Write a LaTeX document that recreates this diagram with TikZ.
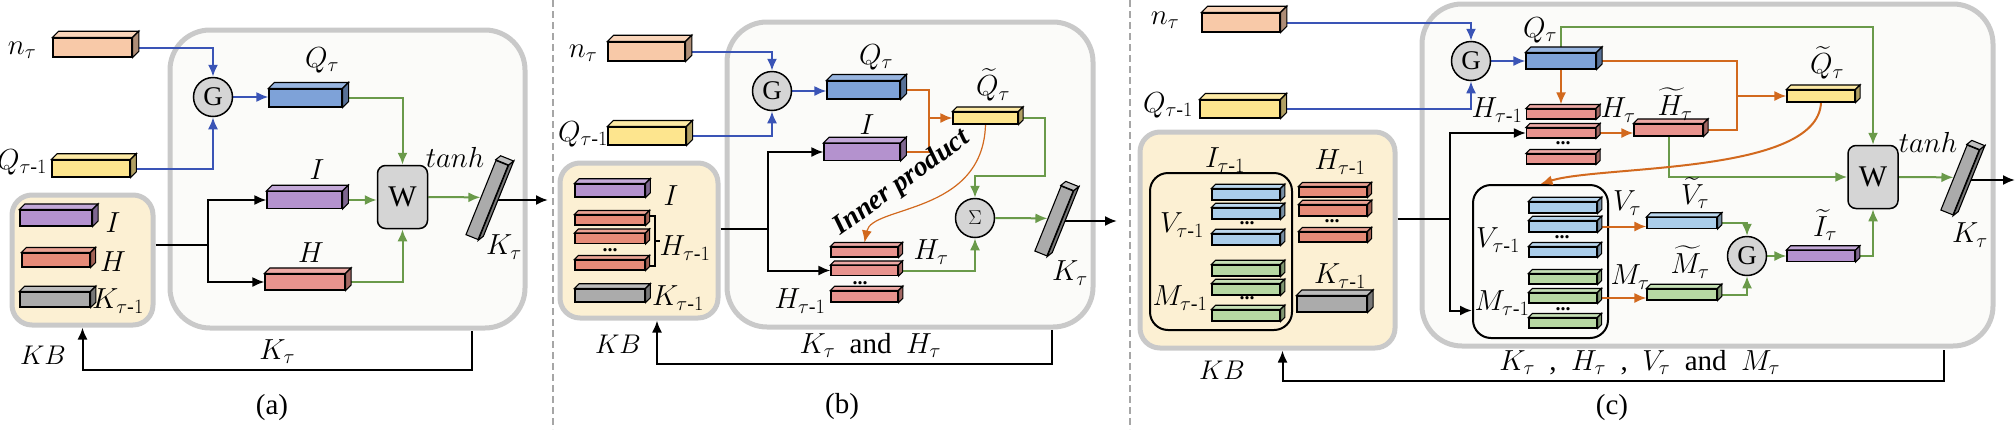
\RequirePackage{fix-cm}
\documentclass[tikz,border=0pt]{standalone}
\usepackage{amsmath}
\usepackage{fontspec}
\setmainfont{Liberation Serif}
\usetikzlibrary{arrows.meta}

\pgfdeclarelayer{back}
\pgfdeclarelayer{wires}
\pgfsetlayers{back,wires,main}

\definecolor{peach}{HTML}{F8C9A8}
\definecolor{lemon}{HTML}{FDE58E}
\definecolor{sky}{HTML}{7EA2D8}
\definecolor{lilac}{HTML}{B492CE}
\definecolor{rose}{HTML}{E8938E}
\definecolor{coral}{HTML}{E68B78}
\definecolor{stone}{HTML}{ABABAB}
\definecolor{ice}{HTML}{AACDEA}
\definecolor{mint}{HTML}{B7D8A3}
\definecolor{lineblue}{HTML}{3A54B6}
\definecolor{linegreen}{HTML}{6A9A4A}
\definecolor{lineorange}{HTML}{D2691E}
\definecolor{rim}{HTML}{C9C9C9}
\definecolor{paper}{HTML}{FBFBF9}
\definecolor{cream}{HTML}{FCF0D3}
\definecolor{knob}{HTML}{D5D5D5}

\tikzset{cell/.style={draw, line width=1.1pt, inner sep=0pt}}

% flat bar seen a little from above: [height]{name}{centre}{width}{colour}
\newcommand{\cell}[5][18]{%
  \pgfmathsetmacro\celldep{0.25*#1+1.5}%
  \node[cell, minimum width=#4, minimum height=#1, fill=#5] (#2) at (#3) {};
  \draw[line width=1.1pt, fill=#5!80!white] (#2.north west) -- ++(\celldep,-\celldep)
    -- ([shift={(\celldep,-\celldep)}]#2.north east) -- (#2.north east) -- cycle;
  \draw[line width=1.1pt, fill=#5!70!black] (#2.north east) -- ++(\celldep,-\celldep)
    -- ([shift={(\celldep,-\celldep)}]#2.south east) -- (#2.south east) -- cycle;
}
% the tilted K bar: [length]{name}{centre}
\newcommand{\slab}[3][70]{%
  \node[cell, minimum width=#1, minimum height=13, fill=stone, rotate=68] (#2) at (#3) {};
  \draw[line width=1.1pt, fill=stone!75!white] (#2.north east) -- ++(5,-4)
    -- ([shift={(5,-4)}]#2.south east) -- (#2.south east) -- cycle;
  \draw[line width=1.1pt, fill=stone!70!black] (#2.south east) -- ++(5,-4)
    -- ([shift={(5,-4)}]#2.south west) -- (#2.south west) -- cycle;
}

\begin{document}
\begin{tikzpicture}[x=1pt, y=-1pt, >={Latex[length=12pt,width=10pt]},
    font=\fontsize{29}{32}\selectfont,
    panel/.style={draw=rim, line width=5pt, fill=paper, rounded corners=40pt, inner sep=0pt},
    kb/.style={draw=rim, line width=5pt, fill=cream, rounded corners=20pt, inner sep=0pt},
    cluster/.style={draw, line width=2pt, rounded corners=18pt, inner sep=0pt},
    gate/.style={circle, draw, line width=1.5pt, fill=knob, minimum size=39pt, inner sep=0pt, font=\fontsize{27}{27}\selectfont},
    mix/.style={draw, line width=1.5pt, fill=knob, rounded corners=8pt, minimum width=50pt, minimum height=63pt, inner sep=0pt, font=\fontsize{30}{30}\selectfont},
    ellip/.style={inner sep=0pt, font=\fontsize{20}{20}\selectfont\bfseries},
    kbtext/.style={font=\fontsize{27}{29}\selectfont},
    blueline/.style={draw=lineblue, line width=2pt},
    greenline/.style={draw=linegreen, line width=2pt},
    orangeline/.style={draw=lineorange, line width=2pt},
    blackline/.style={draw=black, line width=2pt},
    divider/.style={draw=gray!70, line width=2pt, dash pattern=on 7pt off 4pt}]
\useasboundingbox (0,0) rectangle (2016,429);

\begin{pgfonlayer}{back}
  \node[panel, minimum width=355, minimum height=298] (frA) at (347.5,179) {};
  \node[kb, minimum width=141, minimum height=130] (kbA) at (82.5,260) {};
  \node[panel, minimum width=366, minimum height=305] (frB) at (910,174.5) {};
  \node[kb, minimum width=158, minimum height=155] (kbB) at (639,240.5) {};
  \node[panel, minimum width=571, minimum height=342] (frC) at (1707.5,175) {};
  \node[kb, minimum width=255, minimum height=216] (kbC) at (1267.5,240) {};
  \node[cluster, minimum width=142, minimum height=157] (ivC) at (1221,251.5) {};
  \node[cluster, minimum width=135, minimum height=153] (vmC) at (1540.5,261.5) {};
\end{pgfonlayer}

\draw[divider] (553,0) -- (553,429);
\draw[divider] (1130,0) -- (1130,429);

% (a)
\cell[19]{nA}{92.5,47.5}{79}{peach}
\cell[17]{qpA}{91,168.5}{78}{lemon}
\node[gate] (gA) at (213,97) {G};
\cell[18]{qA}{305.5,98}{73}{sky}
\cell[17]{iA}{304.5,200}{75}{lilac}
\cell[16]{hA}{305,282}{80}{rose}
\node[mix] (wA) at (402.5,197) {W};
\slab[80]{kA}{487,200}
\cell[16]{kiA}{56,218}{72}{lilac}
\cell[14]{khA}{56,260}{68}{coral}
\cell[15]{kkA}{55,299.5}{70}{stone}
\node (lnA) at (22,50) {$n_\tau$};
\node (lqpA) at (22,162) {$Q_{\tau\text{-}1}$};
\node (lqA) at (322,60) {$Q_\tau$};
\node (liA) at (317,170) {$I$};
\node (lhA) at (311,253) {$H$};
\node (ltA) at (455,157) {$tanh$};
\node (lkA) at (504,247) {$K_\tau$};
\node (lkiA) at (113,223) {$I$};
\node (lkhA) at (113,262) {$H$};
\node (lkkA) at (118,301) {$K_{\tau\text{-}1}$};
\node[kbtext] (lkbA) at (43,355) {$KB$};
\node (capA) at (272,408) {(a)};

\begin{pgfonlayer}{wires}
  \draw[blueline, ->] (nA.east) -| (gA.north);
  \draw[blueline, ->] (qpA.east) -| (gA.south);
  \draw[blueline, ->] (gA.east) -- (gA.east -| qA.west);
  \draw[greenline, ->] (qA.east) -| (wA.north);
  \draw[greenline, ->] (iA.east) -- (iA.east -| wA.west);
  \draw[greenline, ->] (hA.east) -| (wA.south);
  \draw[greenline, ->] (wA.east) -- (kA.north);
  \coordinate (jA) at (208,245);
  \draw[blackline] (kbA.east |- jA) -- (jA);
  \draw[blackline, ->] (jA) |- (iA.west);
  \draw[blackline, ->] (jA) |- (hA.west);
  \coordinate (outA) at (548,198);
  \draw[blackline, ->] (kA.center) -- (kA.center -| outA);
  \coordinate (fbA) at (472,331);
  \draw[blackline, ->] (fbA) -- ++(0,39) -| (kbA.south) node[pos=.25, above=2pt] (ktA) {$K_\tau$};
\end{pgfonlayer}

% (b)
\cell[19]{nB}{646.5,51.5}{77}{peach}
\cell{qpB}{647,136}{78}{lemon}
\node[gate] (gB) at (772,91) {G};
\cell{qB}{863.5,90}{73}{sky}
\cell[17]{iB}{862,152}{76}{lilac}
\cell[13]{kiB}{610,190.5}{70}{lilac}
\cell[10]{khB1}{610,220}{70}{coral}
\cell[10]{khB2}{610,238.5}{70}{coral}
\cell[10]{khB3}{610,265}{70}{coral}
\node[ellip] (kdB) at (610,250) {...};
\cell[13]{kkB}{610,295.5}{70}{stone}
\cell[10]{hB1}{864.5,252}{67}{rose}
\cell[10]{hB2}{864.5,270.5}{67}{rose}
\cell[11]{hB3}{864.5,296.5}{67}{rose}
\node[ellip] (hdB) at (860,283) {...};
\cell[12]{tqB}{985.5,118}{65}{lemon}
\node[gate, font=\fontsize{20}{20}\selectfont] (sB) at (975,218) {$\Sigma$};
\slab{kB}{1054,221}
\draw[line width=1.2pt] (650,216) -- (655,216) -- (655,266) -- (650,266) (655,241) -- (660,241);
\node (lnB) at (583,53) {$n_\tau$};
\node (lqpB) at (583,134) {$Q_{\tau\text{-}1}$};
\node (lqB) at (876,57) {$Q_\tau$};
\node (liB) at (867,125) {$I$};
\node (lkiB) at (671,196) {$I$};
\node (lkhB) at (685,248) {$H_{\tau\text{-}1}$};
\node (lkkB) at (678,298) {$K_{\tau\text{-}1}$};
\node[kbtext] (lkbB) at (618,344) {$KB$};
\node (lhpB) at (800,301) {$H_{\tau\text{-}1}$};
\node (lhB) at (931,252) {$H_\tau$};
\node (ltqB) at (993,85) {$\widetilde{Q}_\tau$};
\node (lkB) at (1070,273) {$K_\tau$};
\node[rotate=36, font=\fontsize{28}{28}\selectfont\bfseries\itshape] (ipB) at (902,183) {Inner product};
\node (capB) at (842,407) {(b)};

\begin{pgfonlayer}{wires}
  \draw[blueline, ->] (nB.east) -| (gB.north);
  \draw[blueline, ->] (qpB.east) -| (gB.south);
  \draw[blueline, ->] (gB.east) -- (gB.east -| qB.west);
  \coordinate (jB) at (929,118);
  \draw[orangeline] (qB.east) -| (jB);
  \draw[orangeline] (iB.east) -| (jB);
  \draw[orangeline, ->] (jB) -- (tqB.west);
  \draw[orangeline, line width=1.2pt, ->] (tqB.south) .. controls (983,215) and (872,205) .. ([yshift=4pt]hB1.north);
  \coordinate (gjB) at (1045,176);
  \draw[greenline, ->] (tqB.east) -| (gjB) -| (sB.north);
  \draw[greenline, ->] (hB2.east) -| (sB.south);
  \draw[greenline, ->] (sB.east) -- (kB.north);
  \coordinate (jB2) at (768,229);
  \draw[blackline] (kbB.east |- jB2) -- (jB2);
  \draw[blackline, ->] (jB2) |- (iB.west);
  \draw[blackline, ->] (jB2) |- (hB2.west);
  \coordinate (outB) at (1117,221);
  \draw[blackline, ->] (kB.center) -- (kB.center -| outB);
  \coordinate (fbB) at (1052,330);
  \draw[blackline, ->] (fbB) -- ++(0,34) -| ([xshift=18pt]kbB.south) node[pos=.23, above=2pt] (ktB) {$K_\tau$\enspace and\enspace $H_\tau$};
\end{pgfonlayer}

% (c)
\cell[19]{nC}{1241,22.5}{78}{peach}
\cell{qpC}{1240,109}{80}{lemon}
\node[gate] (gC) at (1471,61) {G};
\cell[16]{qC}{1561,61}{70}{sky}
\cell[11]{vkC1}{1246,194.5}{68}{ice}
\cell[11]{vkC2}{1246,213.5}{68}{ice}
\cell[11]{vkC3}{1246,239.5}{68}{ice}
\node[ellip] (vkd) at (1247,223) {...};
\cell[11]{mkC1}{1246,270.5}{68}{mint}
\cell[11]{mkC2}{1246,289.5}{68}{mint}
\cell[11]{mkC3}{1246,315.5}{68}{mint}
\node[ellip] (mkd) at (1247,298) {...};
\cell[10]{hkC1}{1333,192}{68}{coral}
\cell[11]{hkC2}{1333,210.5}{68}{coral}
\cell[10]{hkC3}{1333,237}{68}{coral}
\node[ellip] (hkd) at (1332,221) {...};
\cell[16]{kkC}{1332,304}{70}{stone}
\cell[10]{hC1}{1561,114}{69}{rose}
\cell[10]{hC2}{1561,133}{69}{rose}
\cell[10]{hC3}{1561,159}{69}{rose}
\node[ellip] (hdC) at (1563,143) {...};
\cell[12]{thC}{1668.5,130}{69}{rose}
\cell[12]{tqC}{1821,96}{68}{lemon}
\cell[11]{vC1}{1563,207.5}{68}{ice}
\cell[11]{vC2}{1563,226.5}{68}{ice}
\cell[10]{vC3}{1563,252}{68}{ice}
\node[ellip] (vdC) at (1562,237) {...};
\cell[10]{mC1}{1563,279}{68}{mint}
\cell[10]{mC2}{1563,298}{68}{mint}
\cell[10]{mC3}{1563,323}{68}{mint}
\node[ellip] (mdC) at (1563,309) {...};
\cell[11]{tvC}{1682,223}{70}{ice}
\cell[11]{tmC}{1682,294.5}{70}{mint}
\node[gate] (g2C) at (1747,256) {G};
\cell[11]{tiC}{1821,256}{68}{lilac}
\node[mix] (wC) at (1873,177) {W};
\slab{kC}{1960,180}
\node (lnC) at (1165,20) {$n_\tau$};
\node (lqpC) at (1168,105) {$Q_{\tau\text{-}1}$};
\node (lqC) at (1540,30) {$Q_\tau$};
\node (livC) at (1225,160) {$I_{\tau\text{-}1}$};
\node (lvkC) at (1182,225) {$V_{\tau\text{-}1}$};
\node (lmkC) at (1180,298) {$M_{\tau\text{-}1}$};
\node (lhkC) at (1340,162) {$H_{\tau\text{-}1}$};
\node (lkkC) at (1340,276) {$K_{\tau\text{-}1}$};
\node[kbtext] (lkbC) at (1222,370) {$KB$};
\node (lhpC) at (1497,110) {$H_{\tau\text{-}1}$};
\node (lhC) at (1618,110) {$H_\tau$};
\node (lthC) at (1675,104) {$\widetilde{H}_\tau$};
\node (ltqC) at (1827,63) {$\widetilde{Q}_\tau$};
\node (lvpC) at (1498,240) {$V_{\tau\text{-}1}$};
\node (lmpC) at (1502,303) {$M_{\tau\text{-}1}$};
\node (lvC) at (1627,203) {$V_\tau$};
\node (ltvC) at (1695,193) {$\widetilde{V}_\tau$};
\node (lmC) at (1630,277) {$M_\tau$};
\node (ltmC) at (1690,262) {$\widetilde{M}_\tau$};
\node (ltiC) at (1825,225) {$\widetilde{I}_\tau$};
\node (ltC) at (1928,142) {$tanh$};
\node (lkC) at (1970,235) {$K_\tau$};
\node (capC) at (1612,408) {(c)};

\begin{pgfonlayer}{wires}
  \draw[blueline, ->] (nC.east) -| (gC.north);
  \draw[blueline, ->] (qpC.east) -| (gC.south);
  \draw[blueline, ->] (gC.east) -- (qC.west);
  \draw[orangeline, ->] (qC.south) -- ([yshift=4pt]hC1.north);
  \coordinate (jC) at (1737,96);
  \draw[orangeline] (qC.east) -| (jC);
  \draw[orangeline] (thC.east) -| (jC);
  \draw[orangeline, ->] (jC) -- (tqC.west);
  \draw[orangeline, ->] (hC2.east) -- (hC2.east -| thC.west);
  \draw[greenline, ->] (qC.north) -- ++(0,-25) -| (wC.north);
  \draw[greenline, ->] (thC.south) |- (wC.west);
  \draw[orangeline, ->] (tqC.south) .. controls (1818,175) and (1600,165) .. (vmC.north);
  \coordinate (jC2) at (1450,219);
  \draw[blackline] (kbC.east |- jC2) -- (jC2);
  \draw[blackline, ->] (jC2) |- (hC2.west);
  \draw[blackline, ->] (jC2) |- ([yshift=-49pt]vmC.west);
  \draw[orangeline, ->] (vC2.east) -- (vC2.east -| tvC.west);
  \draw[orangeline, ->] (mC2.east) -- (mC2.east -| tmC.west);
  \draw[greenline, ->] (tvC.east) -| (g2C.north);
  \draw[greenline, ->] (tmC.east) -| (g2C.south);
  \draw[greenline, ->] (g2C.east) -- (tiC.west);
  \draw[greenline, ->] (tiC.east) -| (wC.south);
  \draw[greenline, ->] (wC.east) -- (kC.north);
  \coordinate (outC) at (2015,180);
  \draw[blackline, ->] (kC.center) -- (kC.center -| outC);
  \coordinate (fbC) at (1944,350);
  \draw[blackline, ->] (fbC) -- ++(0,31) -| ([xshift=15pt]kbC.south) node[pos=.23, above=2pt] (ktC) {$K_\tau$\enspace,\enspace$H_\tau$\enspace,\enspace$V_\tau$\enspace and\enspace$M_\tau$};
\end{pgfonlayer}
\end{tikzpicture}
\end{document}
